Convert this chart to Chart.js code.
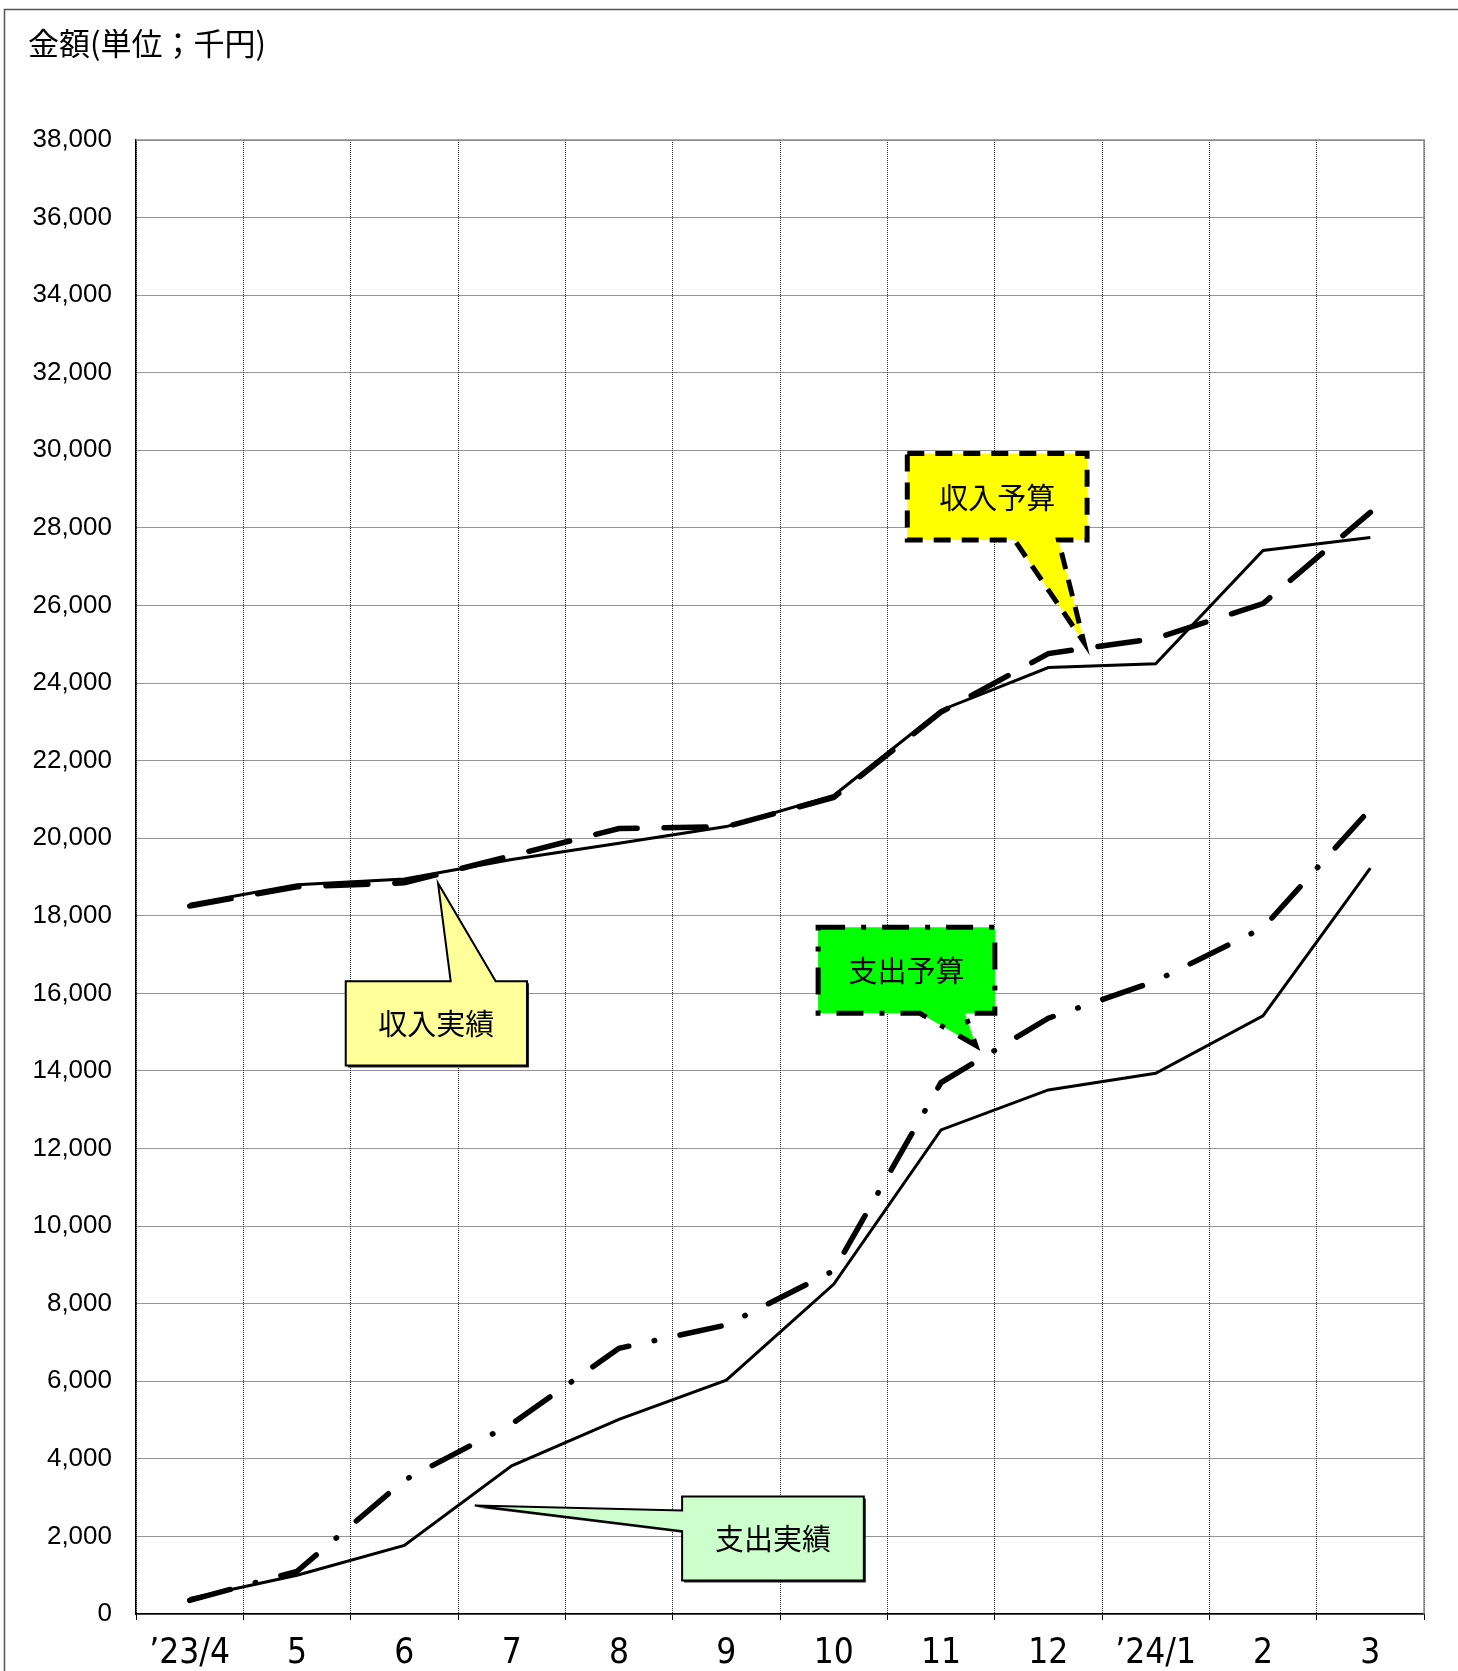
<!DOCTYPE html>
<html>
<head>
<meta charset="utf-8">
<script src="https://cdn.jsdelivr.net/npm/chart.js@4.4.1/dist/chart.umd.min.js"></script>
<style>
  html, body { margin: 0; padding: 0; background: #ffffff; }
  canvas { display: block; }
</style>
</head>
<body>
<canvas id="c" width="1458" height="1671"></canvas>
<script>
// ---- data ----
const months = ['’23/4', '5', '6', '7', '8', '9', '10', '11', '12', '’24/1', '2', '3'];
const incomeActual  = [18300, 18800, 18950, 19450, 19870, 20300, 21100, 23300, 24400, 24500, 27420, 27750]; // 収入実績
const incomeBudget  = [18250, 18750, 18850, 19550, 20250, 20300, 21050, 23250, 24760, 25150, 26050, 28400]; // 収入予算
const expenseActual = [400, 1000, 1770, 3820, 5020, 6030, 8500, 12480, 13510, 13940, 15420, 19230];          // 支出実績
const expenseBudget = [350, 1100, 3450, 4900, 6850, 7450, 8850, 13700, 15360, 16320, 17690, 20750];          // 支出予算
const yMin = 0, yMax = 38000, yStep = 2000;
const yAxisTitle = '金額(単位；千円)';
const seriesNames = ['収入実績', '収入予算', '支出実績', '支出予算'];

// ---- callout annotations (anchored in data coordinates: category index, value) ----
const callouts = [
  { text: '収入予算', box: [6.686, 8.361, 29920, 27688], side: 'bottom', base: [7.684, 8.094], tip: [8.332, 25049],
    fill: '#FFFF00', dash: [17, 11], lw: 5, shadow: false },
  { text: '収入実績', box: [1.454, 3.143, 16312, 14139], side: 'top', base: [2.432, 2.851], tip: [2.314, 18838],
    fill: '#FFFF99', dash: [], lw: 2, shadow: true },
  { text: '支出予算', box: [5.855, 7.502, 17704, 15487], side: 'bottom', base: [6.803, 7.222], tip: [7.325, 14655],
    fill: '#00FF00', dash: [27, 16, 5, 16], lw: 5, shadow: false },
  { text: '支出実績', box: [4.588, 6.281, 3031, 866], side: 'left', base: [2670, 2137], tip: [2.656, 2799],
    fill: '#CCFFCC', dash: [], lw: 2, shadow: true }
];

const backgroundPlugin = {
  id: 'bgFrameTitle',
  beforeDraw(chart) {
    const ctx = chart.ctx;
    ctx.save();
    ctx.fillStyle = '#ffffff';
    ctx.fillRect(0, 0, chart.width, chart.height);
    ctx.strokeStyle = '#555555';
    ctx.lineWidth = 1.5;
    ctx.strokeRect(4.5, 9.5, chart.width + 20, chart.height + 20);
    ctx.fillStyle = '#000000';
    ctx.font = '31px "Noto Sans CJK JP"';
    ctx.textAlign = 'left';
    ctx.textBaseline = 'middle';
    ctx.fillText(yAxisTitle, 28, 43);
    ctx.restore();
  }
};

const plotFramePlugin = {
  id: 'plotFrame',
  beforeDatasetsDraw(chart) {
    const { ctx, chartArea: a } = chart;
    ctx.save();
    ctx.strokeStyle = '#8a8a8a';
    ctx.lineWidth = 1.5;
    ctx.beginPath();
    ctx.moveTo(a.left, a.top);
    ctx.lineTo(a.right, a.top);
    ctx.lineTo(a.right, a.bottom);
    ctx.stroke();
    ctx.restore();
  }
};

const calloutPlugin = {
  id: 'callouts',
  afterDatasetsDraw(chart) {
    const { ctx } = chart;
    const xs = chart.scales.x, ys = chart.scales.y;
    const X = v => xs.getPixelForValue(v);
    const Y = v => ys.getPixelForValue(v);
    callouts.forEach(c => {
      const x0 = X(c.box[0]), x1 = X(c.box[1]), y0 = Y(c.box[2]), y1 = Y(c.box[3]);
      const tx = X(c.tip[0]), ty = Y(c.tip[1]);
      const path = () => {
        ctx.beginPath();
        if (c.side === 'bottom') {
          ctx.moveTo(x0, y0); ctx.lineTo(x1, y0); ctx.lineTo(x1, y1);
          ctx.lineTo(X(c.base[1]), y1); ctx.lineTo(tx, ty); ctx.lineTo(X(c.base[0]), y1);
          ctx.lineTo(x0, y1);
        } else if (c.side === 'top') {
          ctx.moveTo(x0, y0); ctx.lineTo(X(c.base[0]), y0); ctx.lineTo(tx, ty); ctx.lineTo(X(c.base[1]), y0);
          ctx.lineTo(x1, y0); ctx.lineTo(x1, y1); ctx.lineTo(x0, y1);
        } else {
          ctx.moveTo(x0, y0); ctx.lineTo(x1, y0); ctx.lineTo(x1, y1); ctx.lineTo(x0, y1);
          ctx.lineTo(x0, Y(c.base[1])); ctx.lineTo(tx, ty); ctx.lineTo(x0, Y(c.base[0]));
        }
        ctx.closePath();
      };
      ctx.save();
      if (c.shadow) {
        ctx.save();
        ctx.translate(2, 2);
        path();
        ctx.fillStyle = '#222222';
        ctx.fill();
        ctx.restore();
      }
      path();
      ctx.fillStyle = c.fill;
      ctx.fill();
      ctx.setLineDash(c.dash);
      ctx.lineWidth = c.lw;
      ctx.strokeStyle = '#000000';
      ctx.lineJoin = 'miter';
      ctx.stroke();
      ctx.setLineDash([]);
      ctx.fillStyle = '#000000';
      ctx.font = '29px "Noto Sans CJK JP"';
      ctx.textAlign = 'center';
      ctx.textBaseline = 'middle';
      ctx.fillText(c.text, (x0 + x1) / 2, (y0 + y1) / 2 + 1);
      ctx.restore();
    });
  }
};

const chart = new Chart(document.getElementById('c'), {
  type: 'line',
  data: {
    labels: months,
    datasets: [
      { label: seriesNames[0], data: incomeActual, borderColor: '#000', borderWidth: 3, pointRadius: 0, tension: 0, fill: false },
      { label: seriesNames[1], data: incomeBudget, borderColor: '#000', borderWidth: 5.5, borderDash: [42, 27], borderCapStyle: 'round', pointRadius: 0, tension: 0, fill: false },
      { label: seriesNames[2], data: expenseActual, borderColor: '#000', borderWidth: 3, pointRadius: 0, tension: 0, fill: false },
      { label: seriesNames[3], data: expenseBudget, borderColor: '#000', borderWidth: 5.5, borderDash: [42, 26, 0.5, 26], borderCapStyle: 'round', pointRadius: 0, tension: 0, fill: false }
    ]
  },
  options: {
    responsive: false,
    animation: false,
    devicePixelRatio: 1,
    layout: { padding: { top: 140, right: 34, left: 0, bottom: 0 } },
    plugins: { legend: { display: false }, tooltip: { enabled: false }, title: { display: false } },
    scales: {
      x: {
        type: 'category',
        offset: true,
        grid: { offset: true, color: '#2a2a2a', lineWidth: 1, drawTicks: true, tickLength: 6, tickColor: '#000', tickBorderDash: [] },
        border: { display: true, color: '#000', width: 1.5, dash: [1, 1] },
        ticks: { color: '#000', font: { family: '"Liberation Sans Narrow", "DejaVu Sans Condensed", sans-serif', size: 35 }, padding: 13, maxRotation: 0, autoSkip: false },
        afterFit(scale) { scale.height = 57; }
      },
      y: {
        min: yMin, max: yMax,
        grid: { color: '#2a2a2a', lineWidth: 1, drawTicks: false },
        border: { display: true, color: '#000', width: 1.5, dash: [1, 1] },
        ticks: {
          stepSize: yStep, color: '#000', padding: 24,
          font: { family: '"Liberation Sans", Arial, sans-serif', size: 26 },
          callback: v => Number(v).toLocaleString('en-US')
        },
        afterFit(scale) { scale.width = 136; }
      }
    }
  },
  plugins: [backgroundPlugin, plotFramePlugin, calloutPlugin]
});
</script>
</body>
</html>
